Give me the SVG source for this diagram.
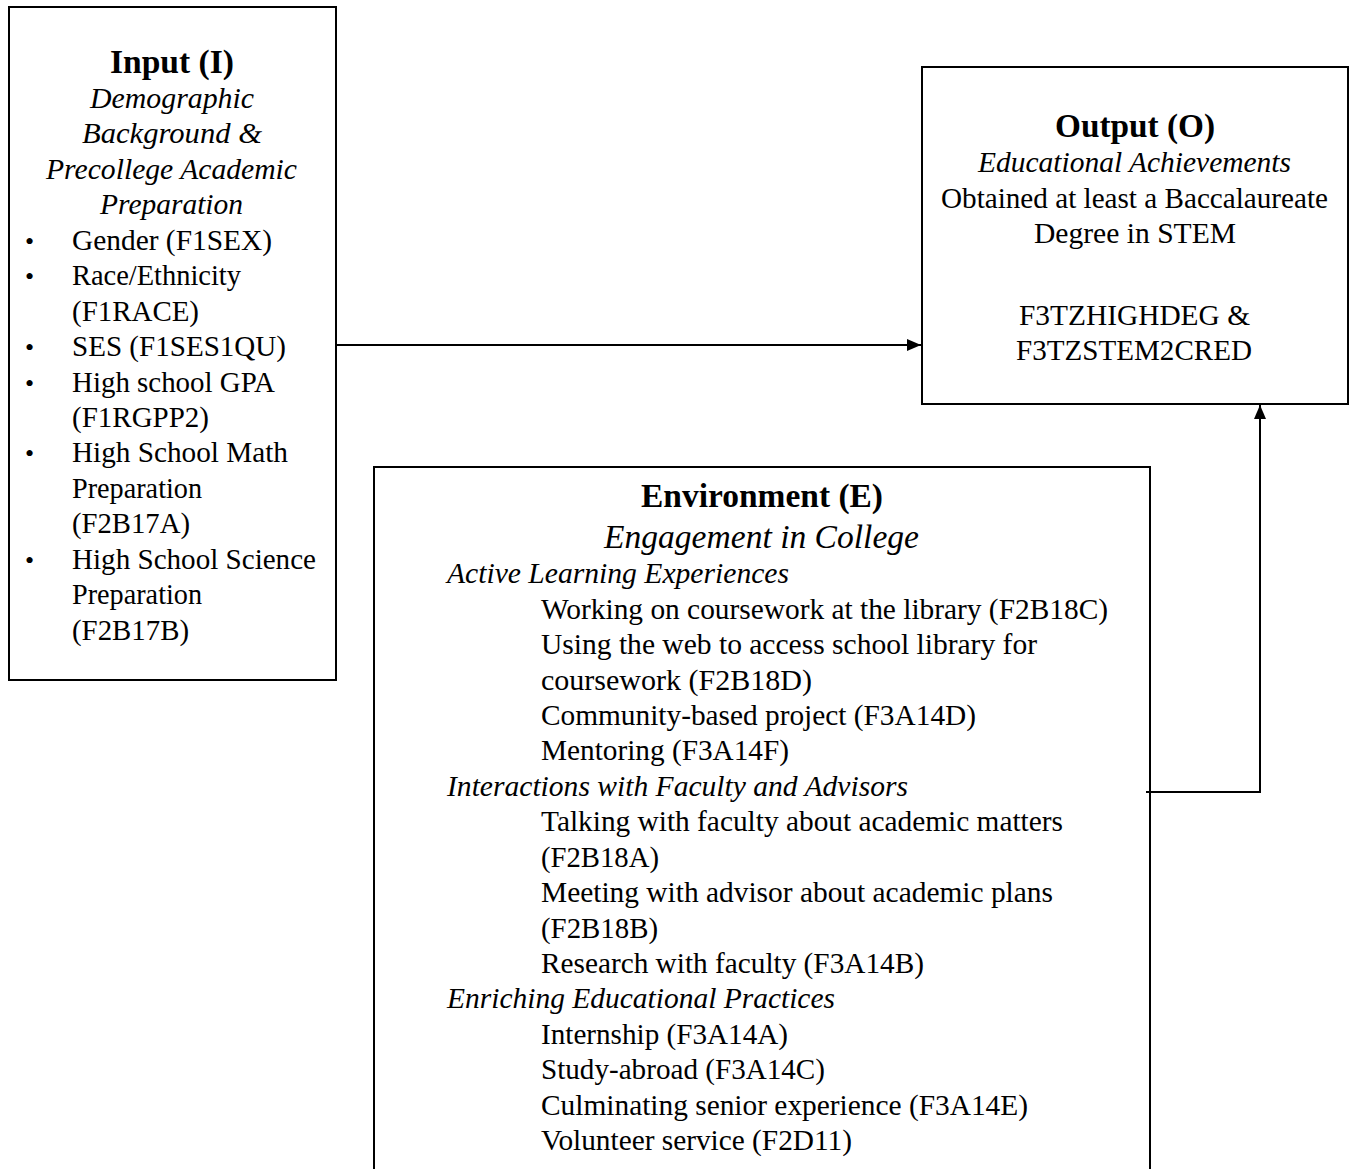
<svg xmlns="http://www.w3.org/2000/svg" width="1354" height="1169" viewBox="0 0 1354 1169">
<style>
.box{fill:#fff;stroke:#000;stroke-width:2}
.ln{stroke:#000;stroke-width:2;fill:none}
</style>
<defs>
<marker id="ah" markerWidth="14" markerHeight="12" refX="14" refY="6" orient="auto" markerUnits="userSpaceOnUse">
<path d="M0,0 L14,6 L0,12 Z" fill="#000"/>
</marker>
</defs>
<rect width="1354" height="1169" fill="#fff"/>
<g id="input" font-family="Liberation Serif" font-size="30" fill="#000" lengthAdjust="spacingAndGlyphs">
<rect class="box" x="9" y="7" width="327" height="673"/>
<text x="110" y="73" font-size="33" font-weight="bold" textLength="124" lengthAdjust="spacingAndGlyphs">Input (I)</text>
<text x="90" y="108" font-style="italic" textLength="164" lengthAdjust="spacingAndGlyphs">Demographic</text>
<text x="82" y="143" font-style="italic" textLength="180" lengthAdjust="spacingAndGlyphs">Background &amp;</text>
<text x="46" y="179" font-style="italic" textLength="251" lengthAdjust="spacingAndGlyphs">Precollege Academic</text>
<text x="100" y="214" font-style="italic" textLength="143" lengthAdjust="spacingAndGlyphs">Preparation</text>
<text x="25" y="250" font-size="26">•</text>
<text x="72" y="250" textLength="200" lengthAdjust="spacingAndGlyphs">Gender (F1SEX)</text>
<text x="25" y="285" font-size="26">•</text>
<text x="72" y="285" textLength="169" lengthAdjust="spacingAndGlyphs">Race/Ethnicity</text>
<text x="72" y="321" textLength="127" lengthAdjust="spacingAndGlyphs">(F1RACE)</text>
<text x="25" y="356" font-size="26">•</text>
<text x="72" y="356" textLength="214" lengthAdjust="spacingAndGlyphs">SES (F1SES1QU)</text>
<text x="25" y="392" font-size="26">•</text>
<text x="72" y="392" textLength="203" lengthAdjust="spacingAndGlyphs">High school GPA</text>
<text x="72" y="427" textLength="137" lengthAdjust="spacingAndGlyphs">(F1RGPP2)</text>
<text x="25" y="462" font-size="26">•</text>
<text x="72" y="462" textLength="216" lengthAdjust="spacingAndGlyphs">High School Math</text>
<text x="72" y="498" textLength="130" lengthAdjust="spacingAndGlyphs">Preparation</text>
<text x="72" y="533" textLength="118" lengthAdjust="spacingAndGlyphs">(F2B17A)</text>
<text x="25" y="569" font-size="26">•</text>
<text x="72" y="569" textLength="244" lengthAdjust="spacingAndGlyphs">High School Science</text>
<text x="72" y="604" textLength="130" lengthAdjust="spacingAndGlyphs">Preparation</text>
<text x="72" y="640" textLength="117" lengthAdjust="spacingAndGlyphs">(F2B17B)</text>
</g>
<g id="output" font-family="Liberation Serif" font-size="30" fill="#000">
<rect class="box" x="922" y="67" width="426" height="337"/>
<text x="1055" y="137" font-size="33" font-weight="bold" textLength="160" lengthAdjust="spacingAndGlyphs">Output (O)</text>
<text x="978" y="172" font-style="italic" textLength="313" lengthAdjust="spacingAndGlyphs">Educational Achievements</text>
<text x="941" y="208" textLength="387" lengthAdjust="spacingAndGlyphs">Obtained at least a Baccalaureate</text>
<text x="1034" y="243" textLength="202" lengthAdjust="spacingAndGlyphs">Degree in STEM</text>
<text x="1019" y="325" textLength="231" lengthAdjust="spacingAndGlyphs">F3TZHIGHDEG &amp;</text>
<text x="1016" y="360" textLength="236" lengthAdjust="spacingAndGlyphs">F3TZSTEM2CRED</text>
</g>
<g id="environment" font-family="Liberation Serif" font-size="30" fill="#000">
<path class="ln" d="M374,1170 V467 H1150 V1170"/>
<text x="641" y="507" font-size="33" font-weight="bold" textLength="242" lengthAdjust="spacingAndGlyphs">Environment (E)</text>
<text x="604" y="548" font-size="33" font-style="italic" textLength="315" lengthAdjust="spacingAndGlyphs">Engagement in College</text>
<text x="447" y="583" font-style="italic" textLength="342" lengthAdjust="spacingAndGlyphs">Active Learning Experiences</text>
<text x="541" y="619" textLength="567" lengthAdjust="spacingAndGlyphs">Working on coursework at the library (F2B18C)</text>
<text x="541" y="654" textLength="496" lengthAdjust="spacingAndGlyphs">Using the web to access school library for</text>
<text x="541" y="690" textLength="271" lengthAdjust="spacingAndGlyphs">coursework  (F2B18D)</text>
<text x="541" y="725" textLength="435" lengthAdjust="spacingAndGlyphs">Community-based project (F3A14D)</text>
<text x="541" y="760" textLength="248" lengthAdjust="spacingAndGlyphs">Mentoring (F3A14F)</text>
<text x="447" y="796" font-style="italic" textLength="461" lengthAdjust="spacingAndGlyphs">Interactions with Faculty and Advisors</text>
<text x="541" y="831" textLength="522" lengthAdjust="spacingAndGlyphs">Talking with faculty about academic matters</text>
<text x="541" y="867" textLength="118" lengthAdjust="spacingAndGlyphs">(F2B18A)</text>
<text x="541" y="902" textLength="512" lengthAdjust="spacingAndGlyphs">Meeting with advisor about academic plans</text>
<text x="541" y="938" textLength="117" lengthAdjust="spacingAndGlyphs">(F2B18B)</text>
<text x="541" y="973" textLength="383" lengthAdjust="spacingAndGlyphs">Research with faculty (F3A14B)</text>
<text x="447" y="1008" font-style="italic" textLength="388" lengthAdjust="spacingAndGlyphs">Enriching Educational Practices</text>
<text x="541" y="1044" textLength="247" lengthAdjust="spacingAndGlyphs">Internship (F3A14A)</text>
<text x="541" y="1079" textLength="284" lengthAdjust="spacingAndGlyphs">Study-abroad (F3A14C)</text>
<text x="541" y="1115" textLength="487" lengthAdjust="spacingAndGlyphs">Culminating senior experience (F3A14E)</text>
<text x="541" y="1150" textLength="311" lengthAdjust="spacingAndGlyphs">Volunteer service (F2D11)</text>
</g>
<g id="connectors">
<path class="ln" d="M336,345 H921" marker-end="url(#ah)"/>
<path class="ln" d="M1146,792 H1260 V405" marker-end="url(#ah)"/>
</g>
</svg>
